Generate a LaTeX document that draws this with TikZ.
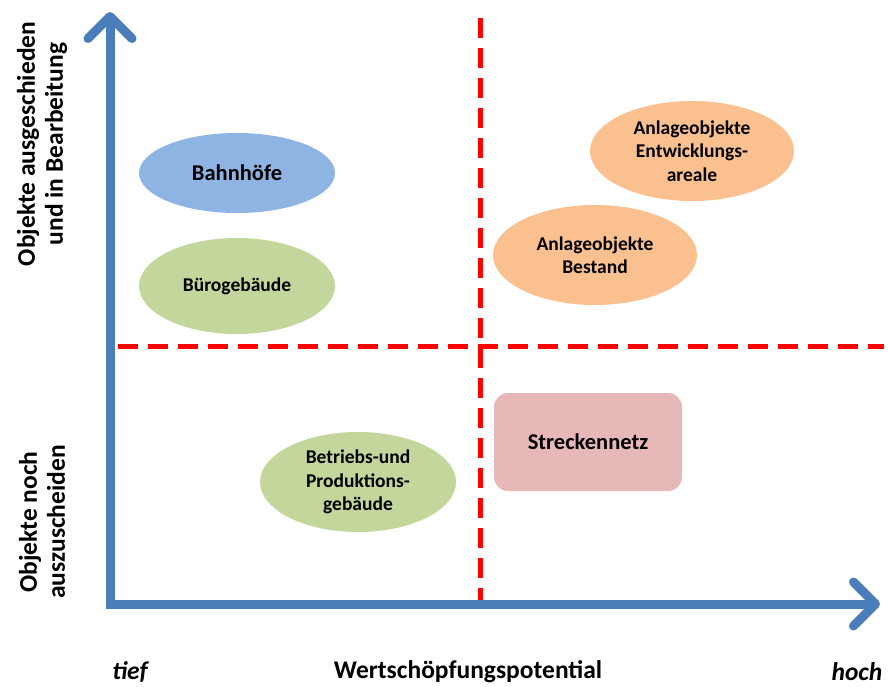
\documentclass[tikz,border=0pt]{standalone}
\usepackage{fontspec}
\setmainfont{Carlito}
\usetikzlibrary{arrows.meta,shapes.geometric}
\begin{document}
\begin{tikzpicture}[x=1pt,y=-1pt,
  axis/.style={draw=axisblue,line width=9pt,
    -{Straight Barb[length=22pt,width=44pt,line cap=round,line join=round]}},
  divider/.style={draw=red,line width=5pt,dash pattern=on 20pt off 10pt},
  blob/.style={ellipse,minimum width=196pt,minimum height=#1,align=center,
    font=\fontsize{19.5}{23.5}\selectfont\bfseries,inner sep=0pt},
  lbl/.style={font=\fontsize{25.5}{28}\selectfont\bfseries,align=center,inner sep=1pt}]
\definecolor{axisblue}{HTML}{4A7EBB}
\definecolor{bluefill}{HTML}{8EB4E3}
\definecolor{greenfill}{HTML}{C3D69B}
\definecolor{orangefill}{HTML}{FAC090}
\definecolor{rosefill}{HTML}{E6B9B8}
\useasboundingbox (0,0) rectangle (888,686);

% quadrant dividers
\coordinate (hl) at (118,346);
\coordinate (hr) at (884,346);
\coordinate (vt) at (480,18);
\coordinate (vb) at (480,604);
\draw[divider] (hl) -- (hr);
\draw[divider] (vt) -- (vb);

% axes
\coordinate (o) at (110,604);
\coordinate (ytip) at (110,12);
\coordinate (xtip) at (880,604);
\draw[axis] (o) -- (ytip);
\draw[axis] (106,604) -- (xtip);

% items
\node[blob=80pt,fill=bluefill,font=\fontsize{22.5}{26}\selectfont\bfseries] (bahn) at (237,173) {Bahnhöfe};
\node[blob=96pt,fill=greenfill] (buero) at (237,286) {Bürogebäude};
\node[blob=100pt,fill=greenfill] (betrieb) at (358,482) {Betriebs-und\\Produktions-\\gebäude};
\node[blob=100pt,minimum width=204pt,fill=orangefill] (bestand) at (595,255) {Anlageobjekte\\Bestand};
\node[blob=100pt,minimum width=204pt,fill=orangefill] (entw) at (692,151) {Anlageobjekte\\Entwicklungs-\\areale};
\node[draw=none,fill=rosefill,rounded corners=14pt,minimum width=188pt,minimum height=98pt,
  font=\fontsize{22.5}{26}\selectfont\bfseries] (strecke) at (588,442) {Streckennetz};

% axis captions
\node[lbl] (tief) at (130,672) {\itshape tief};
\node[lbl] (wsp) at (468,672) {Wertschöpfungspotential};
\node[lbl] (hoch) at (857,672) {\itshape hoch};
\node[lbl,rotate=90] (oben) at (42,144) {Objekte ausgeschieden\\und in Bearbeitung};
\node[lbl,rotate=90] (unten) at (42,522) {Objekte noch\\auszuscheiden};
\end{tikzpicture}
\end{document}
